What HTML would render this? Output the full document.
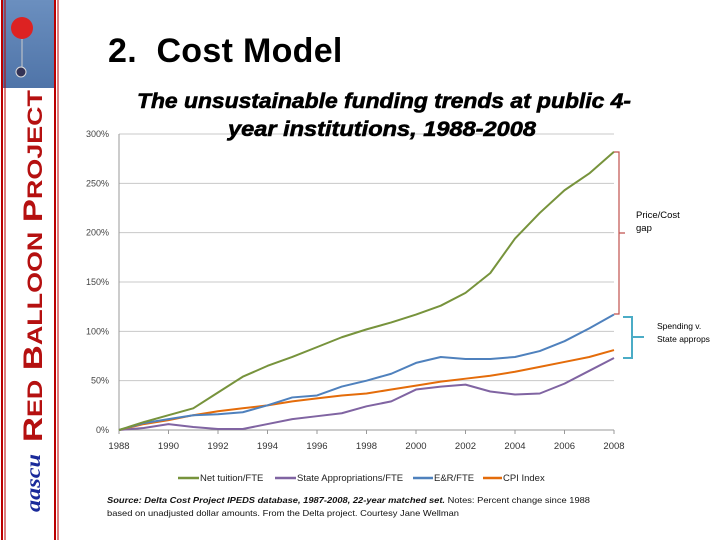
<!DOCTYPE html>
<html><head><meta charset="utf-8"><style>
body{margin:0;width:720px;height:540px;background:#fff;overflow:hidden;font-family:"Liberation Sans",sans-serif;position:relative}
#side{position:absolute;left:0;top:0;width:58px;height:540px;background:#fff}
</style></head><body>
<div id="side">
<svg width="60" height="540">
<defs><linearGradient id="sky" x1="0" y1="0" x2="0" y2="1"><stop offset="0" stop-color="#6b8fbf"/><stop offset="1" stop-color="#4f74a8"/></linearGradient></defs>
<rect x="3" y="0" width="52" height="88" fill="url(#sky)"/>
<circle cx="22" cy="28" r="11" fill="#d22"/>
<line x1="22" y1="39" x2="22" y2="70" stroke="#ccc" stroke-width="1"/>
<circle cx="21" cy="72" r="5" fill="#335" stroke="#ddd"/>
<line x1="2" y1="0" x2="2" y2="540" stroke="#b00" stroke-width="2"/>
<line x1="5" y1="0" x2="5" y2="540" stroke="#b00" stroke-width="1"/>
<line x1="55" y1="0" x2="55" y2="540" stroke="#b00" stroke-width="2"/>
<line x1="58" y1="0" x2="58" y2="540" stroke="#b00" stroke-width="1"/>
<text transform="translate(42,442) rotate(-90)" font-family="Liberation Sans,sans-serif" font-weight="bold" font-size="27" fill="#b51010" textLength="352" lengthAdjust="spacingAndGlyphs">R<tspan font-size="21">ED</tspan> B<tspan font-size="21">ALLOON</tspan> P<tspan font-size="21">ROJECT</tspan></text>
<text transform="translate(40,512) rotate(-90)" font-family="Liberation Serif,serif" font-style="italic" font-weight="bold" font-size="21" fill="#1a2a9a" textLength="58" lengthAdjust="spacingAndGlyphs">aascu</text>
</svg></div>
<div style="position:absolute;left:108px;top:32px;font-size:34px;font-weight:bold;color:#000;letter-spacing:0.3px">2.&nbsp; Cost Model</div>
<svg id="chart" width="720" height="540" style="position:absolute;left:0;top:0"></svg>
<script>
const years=[1988,1989,1990,1991,1992,1993,1994,1995,1996,1997,1998,1999,2000,2001,2002,2003,2004,2005,2006,2007,2008];
const tuition=[0,8,15,22,38,54,65,74,84,94,102,109,117,126,139,159,194,220,243,260,282];
const statApp=[0,2,6,3,1,1,6,11,14,17,24,29,41,44,46,39,36,37,47,60,73];
const eandr=[0,7,11,15,16,18,25,33,35,44,50,57,68,74,72,72,74,80,90,103,117];
const cpi=[0,6,10,15,19,22,25,29,32,35,37,41,45,49,52,55,59,64,69,74,81];
const yTicks=[0,50,100,150,200,250,300];
const xTicks=[1988,1990,1992,1994,1996,1998,2000,2002,2004,2006,2008];
const X=v=>119+(v-1988)*(614-119)/20;
const Y=v=>430-v*(430-134)/300;
const svg=document.getElementById('chart');const NS='http://www.w3.org/2000/svg';
function mk(t,a,p){const e=document.createElementNS(NS,t);for(const k in a)e.setAttribute(k,a[k]);(p||svg).appendChild(e);return e;}
yTicks.forEach(v=>{
 const g=mk('line',{x1:119,x2:614,y1:Y(v),y2:Y(v),stroke:v===0?'#999':'#c8c8c8','stroke-width':1});
 
 
 const t=mk('text',{x:109,y:Y(v)+3,'text-anchor':'end','font-size':9,fill:'#444'});
 t.textContent=v+'%';
 
 
});
const ax=mk('line',{x1:119,x2:119,y1:134,y2:430,stroke:'#999'});


xTicks.forEach(v=>{
 const t=mk('text',{x:X(v),y:449,'text-anchor':'middle','font-size':9.5,fill:'#333'});
 t.textContent=v;
 
 
 const k=mk('line',{x1:X(v),x2:X(v),y1:430,y2:434,stroke:'#999'});
 
 
});
const series=[['state-approps-line',statApp,'#8064a2'],['cpi-line',cpi,'#e46c0a'],['e-and-r-line',eandr,'#4f81bd'],['net-tuition-line',tuition,'#77933c']];
series.forEach(s=>{
 const p=mk('polyline',{points:years.map((y,i)=>X(y)+','+Y(s[1][i])).join(' '),fill:'none',stroke:s[2],'stroke-width':2,'stroke-linejoin':'round'});
 
 
});
</script>
<svg width="720" height="540" style="position:absolute;left:0;top:0">
<text x="384" y="108" text-anchor="middle" font-size="21" font-weight="bold" font-style="italic" textLength="494" lengthAdjust="spacingAndGlyphs" stroke="#000" stroke-width="0.6">The unsustainable funding trends at public 4-</text>
<text x="382" y="136" text-anchor="middle" font-size="21" font-weight="bold" font-style="italic" textLength="308" lengthAdjust="spacingAndGlyphs" stroke="#000" stroke-width="0.6">year institutions, 1988-2008</text>
<path d="M614,152 L619,152 L619,314 L614,314 M619,233 L625,233" fill="none" stroke="#c0504d" stroke-width="1.2"/>
<text x="636" y="218" font-size="9.5">Price/Cost</text>
<text x="636" y="231" font-size="9.5">gap</text>
<path d="M623,317 L632,317 L632,358 L623,358 M632,337 L644,337" fill="none" stroke="#4bacc6" stroke-width="2"/>
<text x="657" y="329" font-size="8.5">Spending v.</text>
<text x="657" y="342" font-size="8.5">State approps</text>
<g font-size="9.5" fill="#222">
<line x1="178" x2="199" y1="478" y2="478" stroke="#77933c" stroke-width="2.5"/><text x="200" y="481">Net tuition/FTE</text>
<line x1="275" x2="296" y1="478" y2="478" stroke="#8064a2" stroke-width="2.5"/><text x="297" y="481">State Appropriations/FTE</text>
<line x1="413" x2="433" y1="478" y2="478" stroke="#4f81bd" stroke-width="2.5"/><text x="434" y="481">E&amp;R/FTE</text>
<line x1="483" x2="502" y1="478" y2="478" stroke="#e46c0a" stroke-width="2.5"/><text x="503" y="481">CPI Index</text>
</g>
<text x="107" y="503" font-size="8.5" fill="#111" textLength="483" lengthAdjust="spacingAndGlyphs"><tspan font-style="italic" font-weight="bold">Source: Delta Cost Project IPEDS database, 1987-2008, 22-year matched set.</tspan>  Notes: Percent change since 1988</text>
<text x="107" y="516" font-size="8.5" fill="#111" textLength="352" lengthAdjust="spacingAndGlyphs">based on unadjusted dollar amounts.   From the Delta project.  Courtesy Jane Wellman</text>
</svg>
</body></html>
